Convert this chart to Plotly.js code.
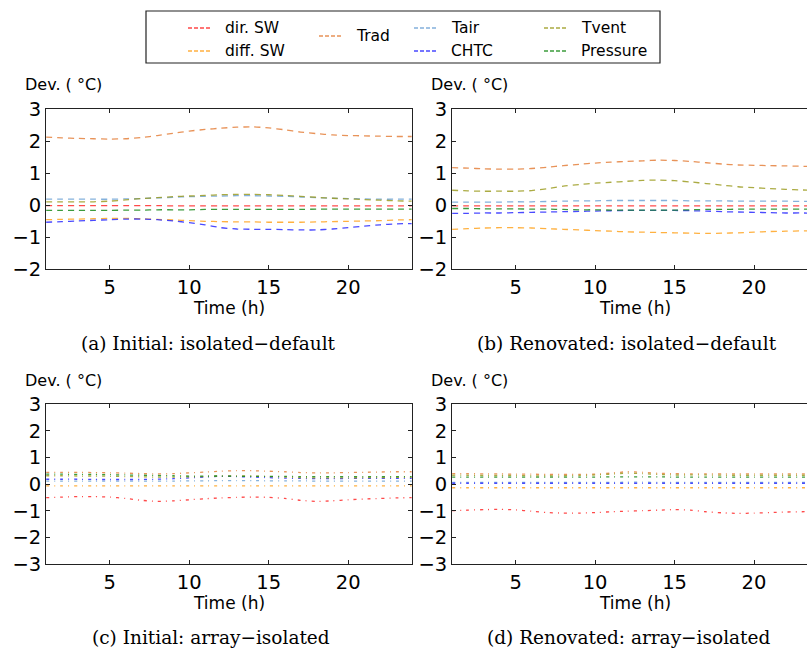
<!DOCTYPE html>
<html><head><meta charset="utf-8">
<script src="https://cdn.plot.ly/plotly-3.0.1.min.js"></script>
<style>html,body{margin:0;padding:0;overflow:hidden;background:#fff}#chart{width:822px;height:652px}</style>
</head><body><div id="chart"></div><script>
// ---- data ----
const hours = [1,2,3,4,5,6,7,8,9,10,11,12,13,14,15,16,17,18,19,20,21,22,23,24];
const seriesNames = ["dir. SW","diff. SW","Trad","Tair","CHTC","Tvent","Pressure"];
const seriesColors = ["#ff2a2a","#ffa320","#e4803c","#6fa3d6","#2a2aff","#9c9c22","#1a8a1a"];
const xTicks = [5,10,15,20];
const yTicksTop = [-2,-1,0,1,2,3];
const yTicksBottom = [-3,-2,-1,0,1,2,3];
const panelCaptions = ["(a) Initial: isolated\u2212default","(b) Renovated: isolated\u2212default","(c) Initial: array\u2212isolated","(d) Renovated: array\u2212isolated"];

// (a) Initial: isolated-default
const dirSW_a   = [-0.01,-0.01,-0.01,-0.01,-0.01,-0.01,-0.01,-0.01,-0.02,-0.02,-0.02,-0.02,-0.02,-0.02,-0.02,-0.02,-0.02,-0.02,-0.02,-0.02,-0.02,-0.02,-0.02,-0.02];
const diffSW_a  = [-0.45,-0.44,-0.43,-0.42,-0.41,-0.41,-0.42,-0.44,-0.46,-0.48,-0.50,-0.51,-0.52,-0.52,-0.53,-0.53,-0.53,-0.52,-0.51,-0.50,-0.49,-0.48,-0.46,-0.45];
const Trad_a    = [2.13,2.11,2.09,2.08,2.07,2.08,2.12,2.18,2.25,2.32,2.37,2.41,2.44,2.45,2.42,2.36,2.29,2.24,2.20,2.18,2.17,2.16,2.15,2.15];
const Tair_a    = [0.19,0.19,0.19,0.19,0.19,0.20,0.21,0.23,0.25,0.27,0.28,0.29,0.30,0.30,0.29,0.28,0.26,0.24,0.22,0.21,0.20,0.19,0.19,0.19];
const CHTC_a    = [-0.53,-0.51,-0.49,-0.47,-0.45,-0.43,-0.43,-0.45,-0.49,-0.54,-0.61,-0.70,-0.74,-0.75,-0.75,-0.76,-0.77,-0.77,-0.74,-0.70,-0.65,-0.61,-0.58,-0.57];
const Tvent_a   = [0.11,0.11,0.11,0.11,0.13,0.17,0.21,0.24,0.27,0.29,0.31,0.33,0.34,0.34,0.33,0.31,0.28,0.25,0.22,0.20,0.18,0.16,0.14,0.13];
const Pressure_a= [-0.16,-0.16,-0.16,-0.16,-0.16,-0.15,-0.15,-0.14,-0.14,-0.14,-0.13,-0.13,-0.13,-0.13,-0.13,-0.13,-0.13,-0.12,-0.12,-0.12,-0.12,-0.12,-0.12,-0.12];

// (b) Renovated: isolated-default
const dirSW_b   = [-0.02,-0.02,-0.02,-0.02,-0.02,-0.02,-0.02,-0.02,-0.02,-0.02,-0.02,-0.02,-0.02,-0.02,-0.02,-0.02,-0.02,-0.02,-0.02,-0.02,-0.02,-0.02,-0.02,-0.02];
const diffSW_b  = [-0.75,-0.73,-0.71,-0.70,-0.70,-0.71,-0.73,-0.75,-0.77,-0.79,-0.81,-0.83,-0.84,-0.85,-0.86,-0.87,-0.88,-0.87,-0.86,-0.84,-0.82,-0.81,-0.80,-0.79];
const Trad_b    = [1.18,1.16,1.14,1.13,1.13,1.15,1.19,1.24,1.28,1.32,1.35,1.37,1.39,1.41,1.40,1.37,1.33,1.29,1.26,1.25,1.24,1.23,1.22,1.21];
const Tair_b    = [0.10,0.10,0.10,0.10,0.11,0.11,0.12,0.13,0.14,0.14,0.15,0.15,0.15,0.15,0.15,0.14,0.14,0.14,0.13,0.13,0.13,0.13,0.12,0.12];
const CHTC_b    = [-0.25,-0.25,-0.24,-0.24,-0.23,-0.22,-0.21,-0.20,-0.19,-0.18,-0.17,-0.16,-0.16,-0.16,-0.16,-0.17,-0.18,-0.20,-0.21,-0.22,-0.23,-0.24,-0.24,-0.25];
const Tvent_b   = [0.47,0.45,0.44,0.44,0.44,0.46,0.52,0.60,0.65,0.69,0.72,0.75,0.78,0.79,0.77,0.73,0.68,0.63,0.58,0.55,0.52,0.50,0.48,0.47];
const Pressure_b= [-0.10,-0.10,-0.11,-0.11,-0.11,-0.12,-0.12,-0.13,-0.14,-0.14,-0.15,-0.15,-0.15,-0.15,-0.15,-0.14,-0.13,-0.13,-0.12,-0.12,-0.12,-0.12,-0.12,-0.12];

// (c) Initial: array-isolated
const dirSW_c   = [-0.50,-0.48,-0.46,-0.46,-0.48,-0.53,-0.60,-0.64,-0.62,-0.58,-0.54,-0.51,-0.49,-0.48,-0.49,-0.53,-0.60,-0.64,-0.62,-0.58,-0.55,-0.53,-0.51,-0.50];
const diffSW_c  = [-0.06,-0.06,-0.06,-0.06,-0.06,-0.06,-0.06,-0.06,-0.06,-0.06,-0.06,-0.06,-0.06,-0.06,-0.06,-0.06,-0.06,-0.06,-0.06,-0.06,-0.06,-0.06,-0.06,-0.06];
const Trad_c    = [0.45,0.45,0.45,0.44,0.43,0.42,0.40,0.39,0.40,0.43,0.46,0.49,0.51,0.51,0.49,0.47,0.44,0.43,0.43,0.44,0.45,0.46,0.47,0.47];
const Tair_c    = [0.12,0.12,0.12,0.12,0.12,0.12,0.12,0.12,0.12,0.13,0.13,0.14,0.14,0.14,0.13,0.13,0.13,0.12,0.12,0.12,0.12,0.12,0.12,0.12];
const CHTC_c    = [0.19,0.19,0.19,0.18,0.18,0.18,0.18,0.19,0.21,0.24,0.27,0.30,0.29,0.27,0.25,0.23,0.22,0.21,0.21,0.22,0.22,0.22,0.22,0.22];
const Tvent_c   = [0.32,0.32,0.31,0.31,0.30,0.29,0.28,0.27,0.27,0.28,0.29,0.31,0.32,0.31,0.29,0.27,0.25,0.24,0.24,0.24,0.25,0.25,0.26,0.26];
const Pressure_c= [0.38,0.38,0.37,0.37,0.36,0.35,0.34,0.33,0.32,0.31,0.31,0.31,0.30,0.30,0.30,0.30,0.29,0.29,0.29,0.29,0.29,0.29,0.29,0.29];

// (d) Renovated: array-isolated
const dirSW_d   = [-0.99,-0.97,-0.95,-0.94,-0.96,-1.01,-1.06,-1.08,-1.08,-1.06,-1.03,-1.01,-0.99,-0.97,-0.95,-0.97,-1.03,-1.07,-1.09,-1.08,-1.06,-1.04,-1.03,-1.02];
const diffSW_d  = [-0.13,-0.13,-0.13,-0.13,-0.13,-0.13,-0.13,-0.13,-0.13,-0.13,-0.13,-0.13,-0.13,-0.13,-0.13,-0.13,-0.13,-0.13,-0.13,-0.13,-0.13,-0.13,-0.13,-0.13];
const Trad_d    = [0.40,0.40,0.39,0.39,0.38,0.38,0.37,0.37,0.37,0.38,0.42,0.47,0.45,0.41,0.40,0.39,0.39,0.39,0.39,0.39,0.39,0.39,0.39,0.39];
const Tair_d    = [0.07,0.07,0.07,0.07,0.07,0.07,0.07,0.07,0.07,0.07,0.07,0.08,0.08,0.07,0.07,0.07,0.07,0.07,0.07,0.07,0.07,0.07,0.07,0.07];
const CHTC_d    = [0.04,0.04,0.04,0.04,0.04,0.04,0.04,0.04,0.04,0.04,0.04,0.04,0.04,0.04,0.04,0.04,0.04,0.04,0.04,0.04,0.04,0.04,0.04,0.04];
const Tvent_d   = [0.34,0.34,0.33,0.33,0.33,0.32,0.32,0.32,0.33,0.35,0.38,0.42,0.40,0.37,0.35,0.35,0.35,0.34,0.34,0.34,0.34,0.34,0.34,0.34];
const Pressure_d= [0.27,0.27,0.27,0.27,0.27,0.27,0.27,0.27,0.27,0.27,0.28,0.28,0.28,0.28,0.27,0.27,0.27,0.27,0.27,0.27,0.27,0.27,0.27,0.27];

// ---- figure ----
const W = 822, H = 652;
const px = v => v / W;
const py = v => 1 - v / H;
const FONT = "DejaVu Sans, Verdana, sans-serif";
const SERIF = "DejaVu Serif, Liberation Serif, serif";

const panels = [
  {data:[dirSW_a,diffSW_a,Trad_a,Tair_a,CHTC_a,Tvent_a,Pressure_a], x:"x", y:"y", dash:"6px,5px"},
  {data:[dirSW_b,diffSW_b,Trad_b,Tair_b,CHTC_b,Tvent_b,Pressure_b], x:"x2", y:"y2", dash:"6px,5px"},
  {data:[dirSW_c,diffSW_c,Trad_c,Tair_c,CHTC_c,Tvent_c,Pressure_c], x:"x3", y:"y3", dash:"3px,5px,1px,5px"},
  {data:[dirSW_d,diffSW_d,Trad_d,Tair_d,CHTC_d,Tvent_d,Pressure_d], x:"x4", y:"y4", dash:"3px,5px,1px,5px"}
];

const traces = [];
panels.forEach(p => {
  p.data.forEach((vals, i) => {
    traces.push({
      type: "scatter", mode: "lines", x: hours, y: vals,
      xaxis: p.x, yaxis: p.y, name: seriesNames[i], showlegend: false,
      opacity: 0.85,
      line: {color: seriesColors[i], width: 1.3, dash: p.dash, shape: "spline", smoothing: 0.6},
      hoverinfo: "skip"
    });
  });
});

function xax(d0, d1, anchor) {
  return {domain:[px(d0), px(d1)], anchor:anchor, range:[1,24], tickvals:xTicks,
    ticks:"inside", ticklen:4, tickcolor:"#222", mirror:"ticks", showline:true, linecolor:"#222", linewidth:1,
    showgrid:false, zeroline:false, tickfont:{family:FONT, size:19.5, color:"#000"}, fixedrange:true};
}
function yax(t, b, anchor, rng, tv) {
  return {domain:[py(b), py(t)], anchor:anchor, range:rng, tickvals:tv,
    ticks:"inside", ticklen:4, tickcolor:"#222", mirror:"ticks", showline:true, linecolor:"#222", linewidth:1,
    showgrid:false, zeroline:false, tickfont:{family:FONT, size:19.5, color:"#000"}, fixedrange:true};
}

const L1 = 46.1, R1 = 411.8, L2 = 452.1, R2 = 817.6;
const T1 = 109.3, B1 = 269.3, T2 = 404.3, B2 = 564.3;

const annotations = [];
function ann(text, x, y, xanchor, size, family) {
  annotations.push({text:text, xref:"paper", yref:"paper", x:px(x), y:py(y), xanchor:xanchor, yanchor:"middle",
    showarrow:false, font:{family:family||FONT, size:size, color:"#000"}});
}
const devText = "Dev. ( \u00B0C)";
ann(devText, 23, 84, "left", 16);
ann(devText, 429, 84, "left", 16);
ann(devText, 23, 380, "left", 16);
ann(devText, 429, 380, "left", 16);
ann("Time (h)", (L1+R1)/2, 308, "center", 17);
ann("Time (h)", (L2+R2)/2, 308, "center", 17);
ann("Time (h)", (L1+R1)/2, 603, "center", 17);
ann("Time (h)", (L2+R2)/2, 603, "center", 17);
ann(panelCaptions[0], 208, 343, "center", 18.5, SERIF);
ann(panelCaptions[1], 627, 343, "center", 18.5, SERIF);
ann(panelCaptions[2], 211, 637, "center", 18.5, SERIF);
ann(panelCaptions[3], 628, 637, "center", 18.5, SERIF);

// legend (drawn as layout shapes + text)
const shapes = [{type:"rect", xref:"paper", yref:"paper", x0:px(146), x1:px(660), y0:py(63), y1:py(11),
  line:{color:"#222", width:1.2}, fillcolor:"rgba(0,0,0,0)"}];
const legendPos = [[188,28],[188,51],[319,36],[414,28],[414,51],[544,28],[544,51]];
seriesNames.forEach((nm, i) => {
  const [lx, ly] = legendPos[i];
  shapes.push({type:"line", xref:"paper", yref:"paper", x0:px(lx), x1:px(lx+23), y0:py(ly), y1:py(ly),
    line:{color:seriesColors[i], width:1.3, dash:"4px,2px"}, opacity:0.85});
  ann(nm, lx + 35, ly, "left", 15.5);
});

const layout = {
  width: W, height: H, margin:{l:0, r:0, t:0, b:0},
  paper_bgcolor:"#fff", plot_bgcolor:"#fff", showlegend:false,
  xaxis: xax(L1, R1, "y"), yaxis: yax(T1, B1, "x", [-2,3], yTicksTop),
  xaxis2: xax(L2, R2, "y2"), yaxis2: yax(T1, B1, "x2", [-2,3], yTicksTop),
  xaxis3: xax(L1, R1, "y3"), yaxis3: yax(T2, B2, "x3", [-3,3], yTicksBottom),
  xaxis4: xax(L2, R2, "y4"), yaxis4: yax(T2, B2, "x4", [-3,3], yTicksBottom),
  annotations: annotations, shapes: shapes
};

Plotly.newPlot("chart", traces, layout, {staticPlot:true, displayModeBar:false});
</script></body></html>
